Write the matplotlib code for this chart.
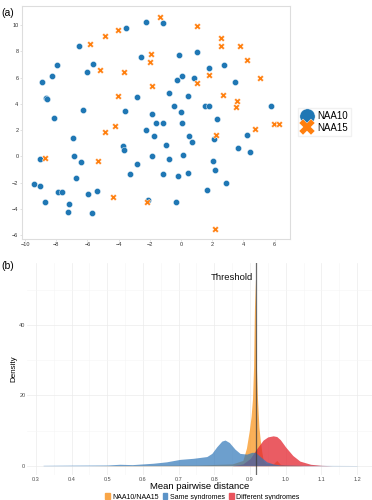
import matplotlib
matplotlib.use("Agg")
import matplotlib.pyplot as plt
from matplotlib.patches import Patch
from matplotlib.lines import Line2D
from matplotlib.ticker import MultipleLocator

plt.rcParams["font.family"] = ["Liberation Sans", "DejaVu Sans"]

# ---- panel (a): embedding scatter ----
naa10_x = [-8.89, -8.29, -7.95, -8.63, -8.58, -8.16, -6.54, -6.05, -5.62, -6.26,
           -6.94, -3.53, -2.26, -1.15, -2.56, -0.15, 1.03, 0.06, -0.26, 0.83,
           1.77, 2.74, 3.44, -0.77, -2.80, 0.43, -3.57, -1.88, -0.43, -0.02,
           1.56, 1.81, 2.33, -1.62, -1.17, 0.04, -2.24, -1.75, 0.49, 0.69,
           2.12, 4.25, -0.98, -3.70, 3.63, 5.77, -3.67, 4.42, -9.04, -6.86,
           -6.43, -1.86, -0.75, 0.15, 2.07, 2.16, -2.80, -3.27, -1.15, -0.17,
           0.45, 2.88, 1.65, -6.73, -9.44, -9.02, -7.86, -7.63, -5.96, -5.37,
           -8.74, -7.16, -7.24, -5.73, -2.12, -0.34]
naa10_y = [5.65, 6.15, 6.95, 4.43, 4.35, 2.92, 8.42, 6.46, 7.02, 3.51,
           1.40, 9.77, 10.23, 10.15, 7.58, 7.76, 7.94, 6.15, 5.80, 6.00,
           6.77, 6.97, 5.65, 4.86, 4.55, 4.63, 3.46, 3.21, 3.82, 3.40,
           3.86, 3.82, 2.82, 2.52, 2.52, 2.57, 1.98, 1.58, 1.53, 1.07,
           1.35, 1.63, 0.89, 0.79, 0.63, 3.84, 0.46, 0.35, -0.21, 0.00,
           -0.46, 0.00, -0.18, 0.07, -0.36, -1.00, -0.59, -1.35, -1.38, -1.53,
           -1.25, -2.01, -2.60, -1.63, -2.11, -2.24, -2.73, -2.75, -2.88, -2.67,
           -3.51, -3.66, -4.25, -4.30, -3.31, -3.46]

naa15_x = [-1.35, 1.03, -4.04, -4.85, -5.85, 2.58, 2.54, 3.80, 4.23, -1.90,
           -1.99, -5.19, -3.65, 1.79, 1.03, -1.84, -4.06, 2.69, 3.59, 3.54,
           -4.21, -4.89, 2.24, 5.06, 5.98, 6.26, 4.74, 2.20, -8.72, -5.34,
           -4.34, -2.16]
naa15_y = [10.66, 9.92, 9.62, 9.16, 8.55, 9.00, 8.40, 8.44, 7.33, 7.79,
           7.18, 6.61, 6.46, 6.21, 5.62, 5.37, 4.63, 4.71, 4.24, 3.79,
           2.31, 1.83, 1.63, 6.00, 2.47, 2.47, 2.06, -5.52, -0.16, -0.38,
           -3.13, -3.46]

# ---- panel (b): density curves ----
pair_x = [0.45, 0.60, 0.75, 0.85, 0.88, 0.89, 0.898, 0.903, 0.907, 0.910,
          0.912, 0.914, 0.916, 0.918, 0.921, 0.925, 0.929, 0.933, 0.937, 0.945,
          0.965, 0.975, 0.985, 1.00, 1.05]
pair_d = [0.0, 0.1, 0.2, 0.5, 1.5, 5.0, 10.0, 14.0, 19.0, 28.0,
          42.0, 53.0, 42.0, 28.0, 19.0, 11.0, 7.0, 4.0, 1.5, 0.6,
          0.5, 1.5, 0.4, 0.2, 0.0]

same_x = [0.32, 0.40, 0.50, 0.535, 0.57, 0.629, 0.666, 0.704, 0.741, 0.779,
          0.793, 0.807, 0.821, 0.830, 0.842, 0.858, 0.872, 0.891, 0.905, 0.915,
          0.93, 0.947, 0.965, 0.984, 1.05, 1.20]
same_d = [0.1, 0.15, 0.2, 0.4, 0.3, 0.7, 1.1, 1.8, 2.1, 2.6,
          3.5, 5.4, 7.0, 7.3, 6.6, 4.7, 3.5, 3.3, 3.8, 3.8,
          2.5, 1.1, 0.5, 0.2, 0.1, 0.05]

diff_x = [0.85, 0.88, 0.90, 0.92, 0.937, 0.95, 0.965, 0.975, 0.985, 1.00,
          1.02, 1.04, 1.07, 1.10, 1.13]
diff_d = [0.0, 0.5, 2.0, 5.0, 7.3, 8.2, 8.5, 8.3, 7.4, 5.3,
          2.9, 1.3, 0.4, 0.1, 0.0]

threshold = 0.917

blue = "#1f77b4"
orange = "#ff7f0e"

fig = plt.figure(figsize=(3.72, 5.0), dpi=100)

# panel (a)
ax1 = fig.add_axes([0.059, 0.522, 0.721, 0.466])
ax1.scatter(naa10_x, naa10_y, s=20, marker="o", color=blue,
            edgecolor="white", linewidth=0.3, label="NAA10")
ax1.scatter(naa15_x, naa15_y, s=22, marker="X", color=orange,
            edgecolor="white", linewidth=0.3, label="NAA15")
ax1.set_xlim(-10.2, 7.0)
ax1.set_ylim(-6.3, 11.47)
ax1.set_xticks(range(-10, 7, 2))
ax1.set_yticks(range(-6, 11, 2))
ax1.tick_params(labelsize=4, length=1.5, width=0.4, pad=1,
                colors="#cccccc", labelcolor="#333333")
for s in ax1.spines.values():
    s.set_color("#dddddd")
    s.set_linewidth(0.8)

handles = [
    Line2D([], [], marker="o", color=blue, linestyle="", markersize=11,
           markeredgecolor="white", markeredgewidth=0.3),
    Line2D([], [], marker="X", color=orange, linestyle="", markersize=11,
           markeredgecolor="white", markeredgewidth=0.3),
]
fig.legend(handles, ["NAA10", "NAA15"], loc="center left",
           bbox_to_anchor=(0.787, 0.756), fontsize=7, frameon=True,
           edgecolor="#eeeeee", fancybox=False, handletextpad=0.4,
           labelspacing=0.15, borderpad=0.3, handlelength=1.3)

fig.text(0.005, 0.985, "(a)", fontsize=7.5, va="top")
fig.text(0.005, 0.478, "(b)", fontsize=7.5, va="top")

# panel (b)
ax2 = fig.add_axes([0.0737, 0.05, 0.9263, 0.424])
ax2.fill_between(pair_x, pair_d, color="#f99d2e", alpha=0.8, linewidth=0,
                 label="NAA10/NAA15")
ax2.fill_between(diff_x, diff_d, color="#e4252f", alpha=0.75, linewidth=0,
                 label="Different syndromes")
ax2.fill_between(same_x, same_d, color="#2f76b8", alpha=0.7, linewidth=0,
                 label="Same syndromes")
ax2.axvline(threshold, color="#3a3a3a", linewidth=0.9, alpha=0.75)
ax2.text(threshold - 0.008, 53.7, "Threshold", fontsize=6.8, ha="right",
         va="center", color="#111111")

ax2.set_xlim(0.276, 1.242)
ax2.set_ylim(-2.65, 57.7)
ax2.xaxis.set_minor_locator(MultipleLocator(0.05))
ax2.yaxis.set_major_locator(MultipleLocator(20))
ax2.yaxis.set_minor_locator(MultipleLocator(10))
ax2.set_xticks([0.3, 0.4, 0.5, 0.6, 0.7, 0.8, 0.9, 1.0, 1.1, 1.2])
ax2.set_xticklabels(["0.3", "0.4", "0.5", "0.6", "0.7", "0.8", "0.9",
                     "1.0", "1.1", "1.2"])
ax2.grid(which="major", color="#ebebeb", linewidth=0.5)
ax2.grid(which="minor", color="#f5f5f5", linewidth=0.4)
ax2.set_axisbelow(True)
ax2.tick_params(which="both", length=0, labelsize=4, colors="#4d4d4d", pad=1.5)
for s in ax2.spines.values():
    s.set_visible(False)
ax2.set_xlabel("Mean pairwise distance", fontsize=6.8, labelpad=0)
ax2.set_ylabel("Density", fontsize=5.8, labelpad=1)

leg_handles = [Patch(color="#f9a648"), Patch(color="#5b93c7"),
               Patch(color="#e9545d")]
fig.legend(leg_handles, ["NAA10/NAA15", "Same syndromes", "Different syndromes"],
           loc="lower center", bbox_to_anchor=(0.543, -0.014), ncol=3,
           fontsize=5, frameon=False, handlelength=0.7, handleheight=0.9,
           handletextpad=0.3, columnspacing=0.6)

fig.savefig("out.png", dpi=100)
